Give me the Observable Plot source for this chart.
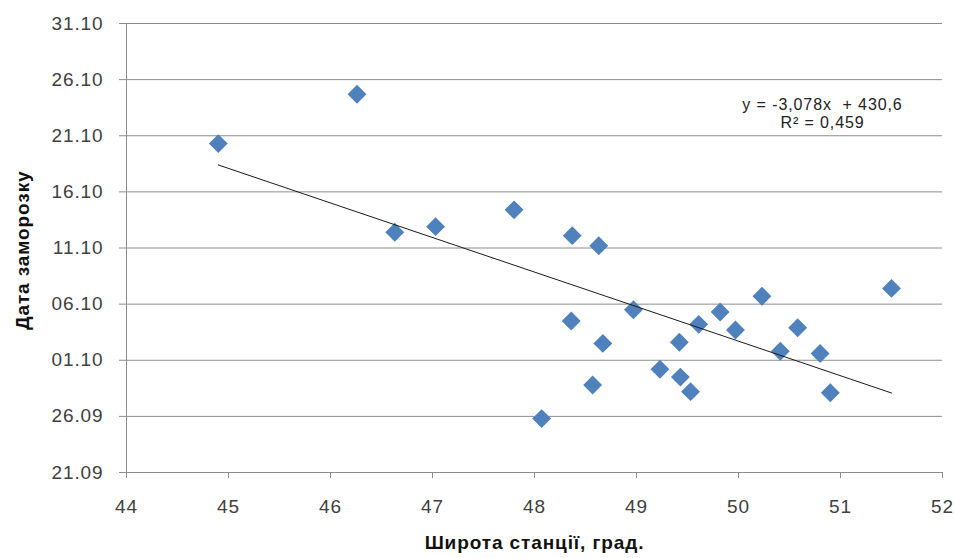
<!DOCTYPE html>
<html>
<head>
<meta charset="utf-8">
<script src="https://cdn.jsdelivr.net/npm/d3@7"></script>
<script src="https://cdn.jsdelivr.net/npm/@observablehq/plot@0.6"></script>
<style>
  html, body { margin: 0; padding: 0; background: #fff; }
  #chart svg { display: block; }
</style>
</head>
<body>
<div id="chart"></div>
<script>
// Station latitude, degrees
const latitude = [44.90, 46.26, 46.63, 47.03, 47.80, 48.37, 48.63, 48.36, 48.97, 48.67,
                  48.57, 48.07, 49.23, 49.42, 49.43, 49.53, 49.61, 49.82, 49.97, 50.23,
                  50.41, 50.58, 50.80, 50.90, 51.50];
// First frost date, day of year (leap-year numbering: 265 = 21.09)
const frostDay = [294.3, 298.7, 286.4, 286.9, 288.4, 286.1, 285.2, 278.5, 279.5, 276.5,
                  272.8, 269.8, 274.2, 276.6, 273.5, 272.2, 278.2, 279.3, 277.7, 280.7,
                  275.8, 277.9, 275.6, 272.1, 281.4];
// Axis ticks
const xTicks = [44, 45, 46, 47, 48, 49, 50, 51, 52];
const yTicks = [265, 270, 275, 280, 285, 290, 295, 300, 305];
const yTickLabels = ["21.09", "26.09", "01.10", "06.10", "11.10", "16.10", "21.10", "26.10", "31.10"];
// Trend line (from the chart's equation)
const slope = -3.078;
const intercept = 430.6;
const equationText = ["y = -3,078x  + 430,6", "R² = 0,459"];
const xTitle = "Широта станції, град.";
const yTitle = "Дата заморозку";

const points = latitude.map((x, i) => ({x, y: frostDay[i]}));
const [xmin, xmax] = d3.extent(latitude);
const trend = [xmin, xmax].map(x => ({x, y: slope * x + intercept}));
const labelOf = new Map(yTicks.map((t, i) => [t, yTickLabels[i]]));

const grid = "#8c8c8c";
const textColor = "#404040";

const chart = Plot.plot({
  width: 954,
  height: 558,
  marginTop: 23,
  marginBottom: 86,
  marginLeft: 126,
  marginRight: 12,
  style: {fontFamily: "'Liberation Sans', Arial, sans-serif", background: "#fff", letterSpacing: "0.9px"},
  x: {domain: [44, 52], label: null},
  y: {domain: [265, 305], label: null},
  marks: [
    Plot.gridY(yTicks, {stroke: grid, strokeOpacity: 1, insetLeft: -7}),
    Plot.ruleX([44], {stroke: grid}),
    Plot.axisX({ticks: xTicks, tickSize: 6, tickPadding: 21, fontSize: 19, stroke: grid, fill: textColor, tickFormat: d => String(d)}),
    Plot.axisY({ticks: yTicks, tickSize: 0, tickPadding: 23, fontSize: 19, fill: textColor, tickFormat: d => labelOf.get(d)}),
    Plot.dot(points, {x: "x", y: "y", symbol: "diamond2", r: 8.5, fill: "#4f81bd", stroke: "none"}),
    Plot.line(trend, {x: "x", y: "y", stroke: "#1a1a1a", strokeWidth: 1}),
    Plot.text([equationText.join("\n")], {frameAnchor: "top-right", dx: -120, dy: 90, textAnchor: "middle", lineAnchor: "middle", lineHeight: 1.08, fontSize: 16, fill: "#222", style: "letter-spacing:1.3px"}),
    Plot.text([xTitle], {frameAnchor: "bottom", dy: 76, fontSize: 19, fontWeight: "bold", fill: "#111"}),
    Plot.text([yTitle], {frameAnchor: "left", dx: -104, dy: 82, rotate: -90, fontSize: 19, fontWeight: "bold", fill: "#111"})
  ]
});
document.getElementById("chart").appendChild(chart);
</script>
</body>
</html>
